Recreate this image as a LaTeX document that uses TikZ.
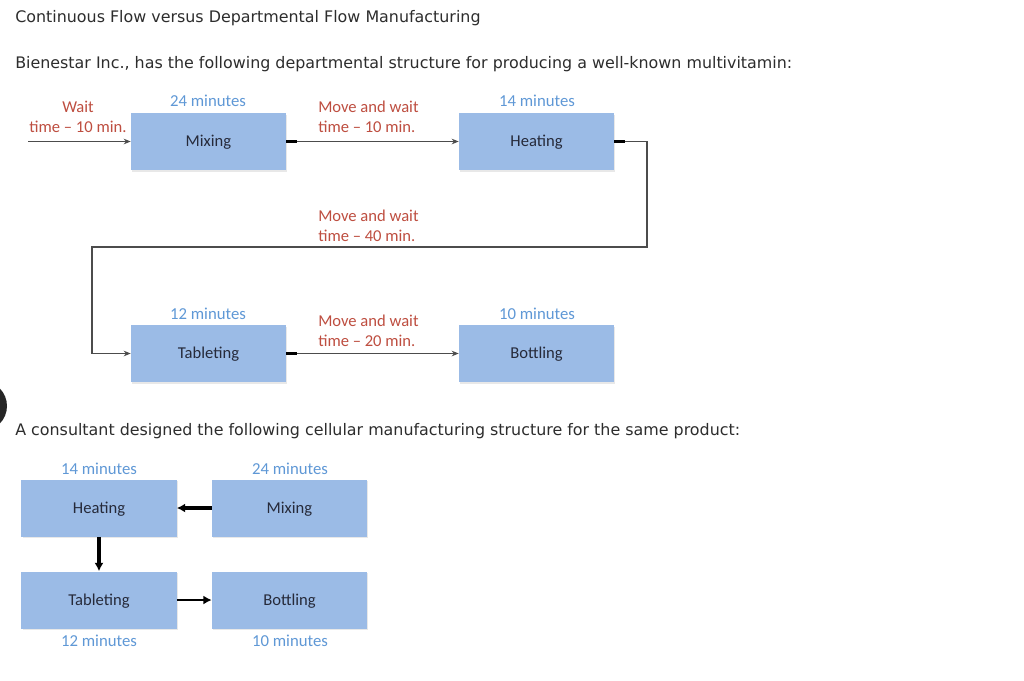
\documentclass[tikz,border=0pt]{standalone}
\usepackage{fontspec}
\setmainfont{DejaVu Sans}
\newfontfamily\labelfont{Carlito}
\usetikzlibrary{arrows.meta,shadows}
\definecolor{boxblue}{RGB}{155,187,230}
\definecolor{boxtext}{RGB}{38,42,58}
\definecolor{minblue}{RGB}{95,152,214}
\definecolor{waitred}{RGB}{190,78,64}
\definecolor{headgray}{RGB}{45,45,45}
\colorlet{linegray}{black!70}

\begin{document}
\begin{tikzpicture}[x=0.025cm,y=-0.025cm,every node/.style={inner sep=0pt},
    dept/.style={fill=boxblue,minimum width=3.875cm,minimum height=1.425cm,text height=1.3ex,text depth=0pt,text=boxtext,font=\labelfont\fontsize{11.8}{13}\selectfont,drop shadow={shadow xshift=1pt,shadow yshift=-1.2pt,opacity=.18}},
    mins/.style={text=minblue,font=\labelfont\fontsize{11.9}{13}\selectfont},
    waitlab/.style={text=waitred,align=left,font=\labelfont\fontsize{11.8}{14.2}\selectfont},
    head/.style={anchor=base west,text=headgray,font=\fontsize{11.3}{13}\selectfont},
    flow/.style={draw=linegray,line width=.8pt,-{Stealth[length=5pt,width=4pt]}},
    stub/.style={line width=2.2pt,black},
    cell/.style={line width=2.4pt,black,-{Latex[length=6pt,width=6.5pt]}}]
  \useasboundingbox (0,0) rectangle (1024,680);
  \clip (0,0) rectangle (1024,680);
  \fill[white] (0,0) rectangle (1024,680);
  \fill[black!85] (-18,406) circle[radius=25];
  % headings
  \node[head] (title) at (15,22) {Continuous Flow versus Departmental Flow Manufacturing};
  \node[head] (intro) at (15,68) {Bienestar Inc., has the following departmental structure for producing a well-known multivitamin:};
  \node[head] (cellintro) at (15,435) {A consultant designed the following cellular manufacturing structure for the same product:};
  % departmental flow
  \node[dept] (mix) at (208.5,141.5) {Mixing};
  \node[dept] (heat) at (536.5,141.5) {Heating};
  \node[dept] (tab) at (208.5,353.5) {Tableting};
  \node[dept] (bot) at (536.5,353.5) {Bottling};
  \node[mins] (mixt) at (208,101) {24 minutes};
  \node[mins] (heatt) at (537,101) {14 minutes};
  \node[mins] (tabt) at (208,314) {12 minutes};
  \node[mins] (bott) at (537,314) {10 minutes};
  \node[waitlab,align=center] (w0) at (78,117) {Wait\\time – 10 min.};
  \node[waitlab,anchor=west] (w1) at (318,117) {Move and wait\\time – 10 min.};
  \node[waitlab,anchor=west] (w2) at (318,226) {Move and wait\\time – 40 min.};
  \node[waitlab,anchor=west] (w3) at (318,331) {Move and wait\\time – 20 min.};
  \coordinate (in) at (28,141.5);
  \coordinate (c1) at (647,247);
  \coordinate (c2) at (92,247);
  \draw[flow] (in) -- (mix.west);
  \draw[flow] (mix.east) -- (heat.west);
  \draw[flow] (heat.east) -| (c1) -- (c2) |- (tab.west);
  \draw[flow] (tab.east) -- (bot.west);
  \draw[stub] (mix.east) -- ++(11,0);
  \draw[stub] (heat.east) -- ++(11,0);
  \draw[stub] (tab.east) -- ++(11,0);
  % cellular layout
  \node[dept] (heat2) at (99,508) {Heating};
  \node[dept] (mix2) at (289.5,508) {Mixing};
  \node[dept] (tab2) at (99,600) {Tableting};
  \node[dept] (bot2) at (289.5,600) {Bottling};
  \node[mins] (heat2t) at (99,469) {14 minutes};
  \node[mins] (mix2t) at (290,469) {24 minutes};
  \node[mins] (tab2t) at (99,641) {12 minutes};
  \node[mins] (bot2t) at (290,641) {10 minutes};
  \draw[cell] (mix2.west) -- (heat2.east);
  \draw[cell] (heat2.south) -- (tab2.north);
  \draw[cell,line width=1.6pt] (tab2.east) -- (bot2.west);
\end{tikzpicture}
\end{document}
